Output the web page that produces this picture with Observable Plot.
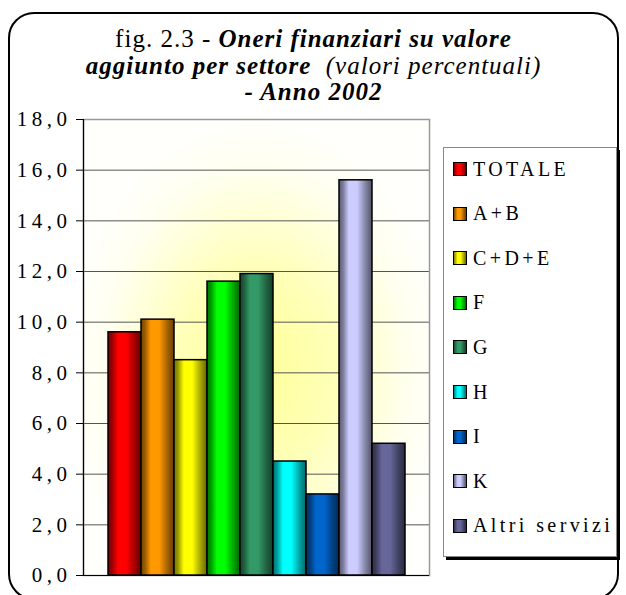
<!DOCTYPE html>
<html><head><meta charset="utf-8">
<script src="https://cdn.jsdelivr.net/npm/d3@7"></script>
<script src="https://cdn.jsdelivr.net/npm/@observablehq/plot@0.6"></script>
<style>
body{margin:0;background:#fff;}
#wrap{position:relative;width:626px;height:595px;overflow:hidden;font-family:"Liberation Serif",serif;color:#000;}
#chart{position:absolute;left:0;top:0;}
#border{position:absolute;left:8px;top:12px;width:611px;height:588px;border:2px solid #000;border-radius:26px;box-sizing:border-box;pointer-events:none;}
#title{position:absolute;left:8px;top:26px;width:611px;text-align:center;font-size:25px;line-height:26.5px;letter-spacing:1px;}
#title .bi{font-weight:bold;font-style:italic;}
#title .i{font-style:italic;}
#legend{position:absolute;left:443px;top:147px;width:174px;height:410px;border:1px solid #888;box-sizing:border-box;background:#fff;box-shadow:3px 3px 0 #000;}
.item{position:absolute;left:9px;height:20px;display:flex;align-items:center;font-size:20px;letter-spacing:3.4px;white-space:nowrap;}
.sw{width:12px;height:12px;border:1.5px solid #000;margin-right:6px;flex:none;}
#chart text{letter-spacing:4.5px;}
</style>
</head><body>
<svg width="0" height="0" style="position:absolute">
<defs id="defs">
<radialGradient id="bg" cx="0.5" cy="0.55" r="0.55">
<stop offset="0" stop-color="#ffff99"/>
<stop offset="0.4" stop-color="#ffffb8"/>
<stop offset="0.8" stop-color="#fffff0"/>
<stop offset="1" stop-color="#fffffc"/>
</radialGradient>
</defs>
</svg>
<div id="wrap">
<div id="chart"></div>
<div id="title">fig. 2.3 - <span class="bi">Oneri finanziari su valore</span><br><span class="bi">aggiunto per settore</span>&nbsp; <span class="i">(valori percentuali)</span><br><span class="bi">- Anno 2002</span></div>
<div id="legend"></div>
<div id="border"></div>
</div>
<script>
const categories = ["TOTALE","A+B","C+D+E","F","G","H","I","K","Altri servizi"];
const values = [9.6, 10.1, 8.5, 11.6, 11.9, 4.5, 3.2, 15.6, 5.2];
const colors = ["#ff0000","#ff9900","#ffff00","#00ff00","#339966","#00ffff","#0066cc","#ccccff","#666699"];
const yTicks = [0,2,4,6,8,10,12,14,16,18];
const gridTicks = [2,4,6,8,10,12,14,16];

const data = categories.map((c,i)=>({name:c, value:values[i], idx:i}));

// gradients for bars
const defs = document.getElementById("defs");
const NS = "http://www.w3.org/2000/svg";
function shade(c,k){const r=d3.rgb(c); return d3.rgb(r.r*k, r.g*k, r.b*k).formatHex();}
colors.forEach((c,i)=>{
  const g = document.createElementNS(NS,"linearGradient");
  g.setAttribute("id","g"+i); g.setAttribute("x1","0"); g.setAttribute("x2","1"); g.setAttribute("y1","0"); g.setAttribute("y2","0");
  [[0,0.45],[0.12,0.6],[0.3,1],[0.55,1],[0.8,0.65],[1,0.4]].forEach(([o,k])=>{
    const s=document.createElementNS(NS,"stop"); s.setAttribute("offset",o); s.setAttribute("stop-color",shade(c,k)); g.appendChild(s);
  });
  defs.appendChild(g);
});

const bars = data.map((d,i)=>Plot.barY([d], {x:"name", y:"value", fill:`url(#g${i})`, stroke:"#000", strokeWidth:1.5, inset:0}));

const chart = Plot.plot({
  width:626, height:595,
  marginLeft:83, marginRight:197, marginTop:119, marginBottom:20,
  style:{background:"transparent", fontFamily:"Liberation Serif", fontSize:"21px", color:"#000"},
  x:{domain:categories, paddingInner:0, paddingOuter:0.74, axis:null},
  y:{domain:[0,18], axis:null},
  marks:[
    Plot.frame({fill:"url(#bg)"}),
    Plot.ruleY(gridTicks, {stroke:"#555", strokeWidth:1}),
    Plot.frame({stroke:"#999", strokeWidth:1.5}),
    ...bars,
    Plot.ruleY([0], {stroke:"#000", strokeWidth:1.2}),
    Plot.frame({anchor:"left", stroke:"#000", strokeWidth:1.2}),
    Plot.axisY({ticks:yTicks, tickFormat:d=>d.toFixed(1).replace(".",","), tickSize:7, tickPadding:5, label:null, fontSize:21})
  ]
});
document.getElementById("chart").appendChild(chart);

const legend = document.getElementById("legend");
categories.forEach((c,i)=>{
  const it=document.createElement("div"); it.className="item";
  it.style.top=(11+i*44.6)+"px";
  const sw=document.createElement("div"); sw.className="sw";
  sw.style.background=`linear-gradient(to right, ${shade(colors[i],0.5)}, ${colors[i]} 30%, ${colors[i]} 55%, ${shade(colors[i],0.4)})`;
  const t=document.createElement("span"); t.textContent=c;
  it.appendChild(sw); it.appendChild(t); legend.appendChild(it);
});
</script>
</body></html>
